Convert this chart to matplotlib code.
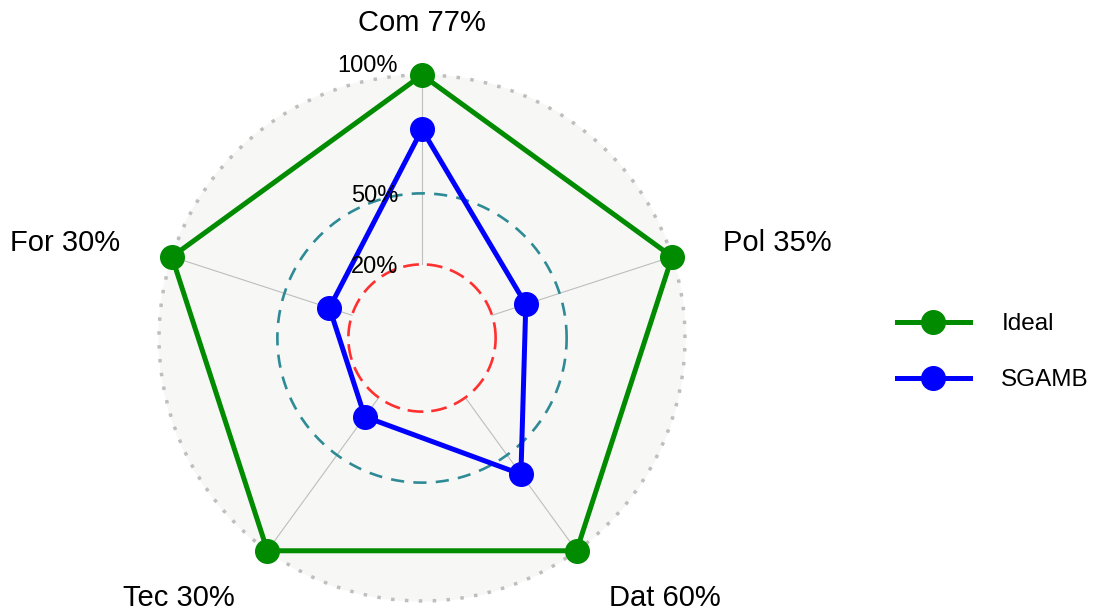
import numpy as np
import matplotlib.pyplot as plt

plt.rcParams['font.family'] = ['Liberation Sans', 'DejaVu Sans']

# data
axes_names = ["Com", "Pol", "Dat", "Tec", "For"]
label_pct = ["77%", "35%", "60%", "30%", "30%"]
ideal = [1.0, 1.0, 1.0, 1.0, 1.0]
sgamb = [0.77, 0.35, 0.60, 0.30, 0.30]
series_names = ["Ideal", "SGAMB"]
series_colors = ["#008B00", "#0000FF"]
grid_values = [0.2, 0.5, 1.0]
grid_labels = ["20%", "50%", "100%"]

centre = -1 / 9  # ggradar style offset of the centre
scale = 236.7    # pixels per unit

fig = plt.figure(figsize=(11.02, 6.14), dpi=100)
ax = fig.add_axes([0, 0, 1, 1])
ax.set_xlim(-422 / scale, (1102 - 422) / scale)
ax.set_ylim(-(614 - 338) / scale, 338 / scale)
ax.set_aspect('equal')
ax.axis('off')

n = len(axes_names)
ang = np.pi / 2 - 2 * np.pi * np.arange(n) / n


def xy(vals):
    r = np.asarray(vals) - centre
    return r * np.cos(ang), r * np.sin(ang)


t = np.linspace(0, 2 * np.pi, 400)
R = 1.0 - centre
ax.fill(R * np.cos(t), R * np.sin(t), color="#F7F7F6", zorder=0)

# axis lines
r0 = 0.2 - centre
for a in ang:
    ax.plot([r0 * np.cos(a), R * np.cos(a)], [r0 * np.sin(a), R * np.sin(a)],
            color="#BEBEBE", lw=0.8, zorder=1)

# grid circles
styles = [("#FF3030", 1.9, (0, (6, 3))),
          ("#2E8B96", 1.9, (0, (5, 3.5))),
          ("#BEBEBE", 2.5, (0, (1, 3)))]
for v, (c, w, ls) in zip(grid_values, styles):
    rr = v - centre
    ax.plot(rr * np.cos(t), rr * np.sin(t), color=c, lw=w, ls=ls, zorder=2,
            dash_capstyle='butt')

gl_off = [-3, -3, 9]
for v, lab, o in zip(grid_values, grid_labels, gl_off):
    ax.annotate(lab, (0, v - centre), xytext=(-24, o), textcoords='offset pixels',
                ha='right', va='center', fontsize=17, zorder=5)

# series
for vals, name, c in zip([ideal, sgamb], series_names, series_colors):
    x, y = xy(vals)
    ax.plot(np.append(x, x[0]), np.append(y, y[0]), color=c, lw=3.6, zorder=3)
    ax.plot(x, y, 'o', color=c, ms=17, zorder=4, label=name)

# axis labels
lr = 1.15 * R
offs = [(0, 13, 'center', 'center'), (13, 2, 'left', 'center'), (9, -15, 'left', 'center'),
        (-9, -15, 'right', 'center'), (-14, 2, 'right', 'center')]
for i in range(n):
    dx, dy, ha, va = offs[i]
    ax.annotate(axes_names[i] + " " + label_pct[i], (lr * np.cos(ang[i]), lr * np.sin(ang[i])),
                xytext=(dx, dy), textcoords='offset pixels', ha=ha, va=va, fontsize=21)

handles = [plt.Line2D([], [], color=c, lw=3.6, marker='o', ms=17) for c in series_colors]
fig.legend(handles, series_names, loc='center left', bbox_to_anchor=(0.794, 0.4265),
           frameon=False, fontsize=17.5, handlelength=3.0, labelspacing=1.4, handletextpad=1.3)

fig.savefig("out.png", dpi=100)
